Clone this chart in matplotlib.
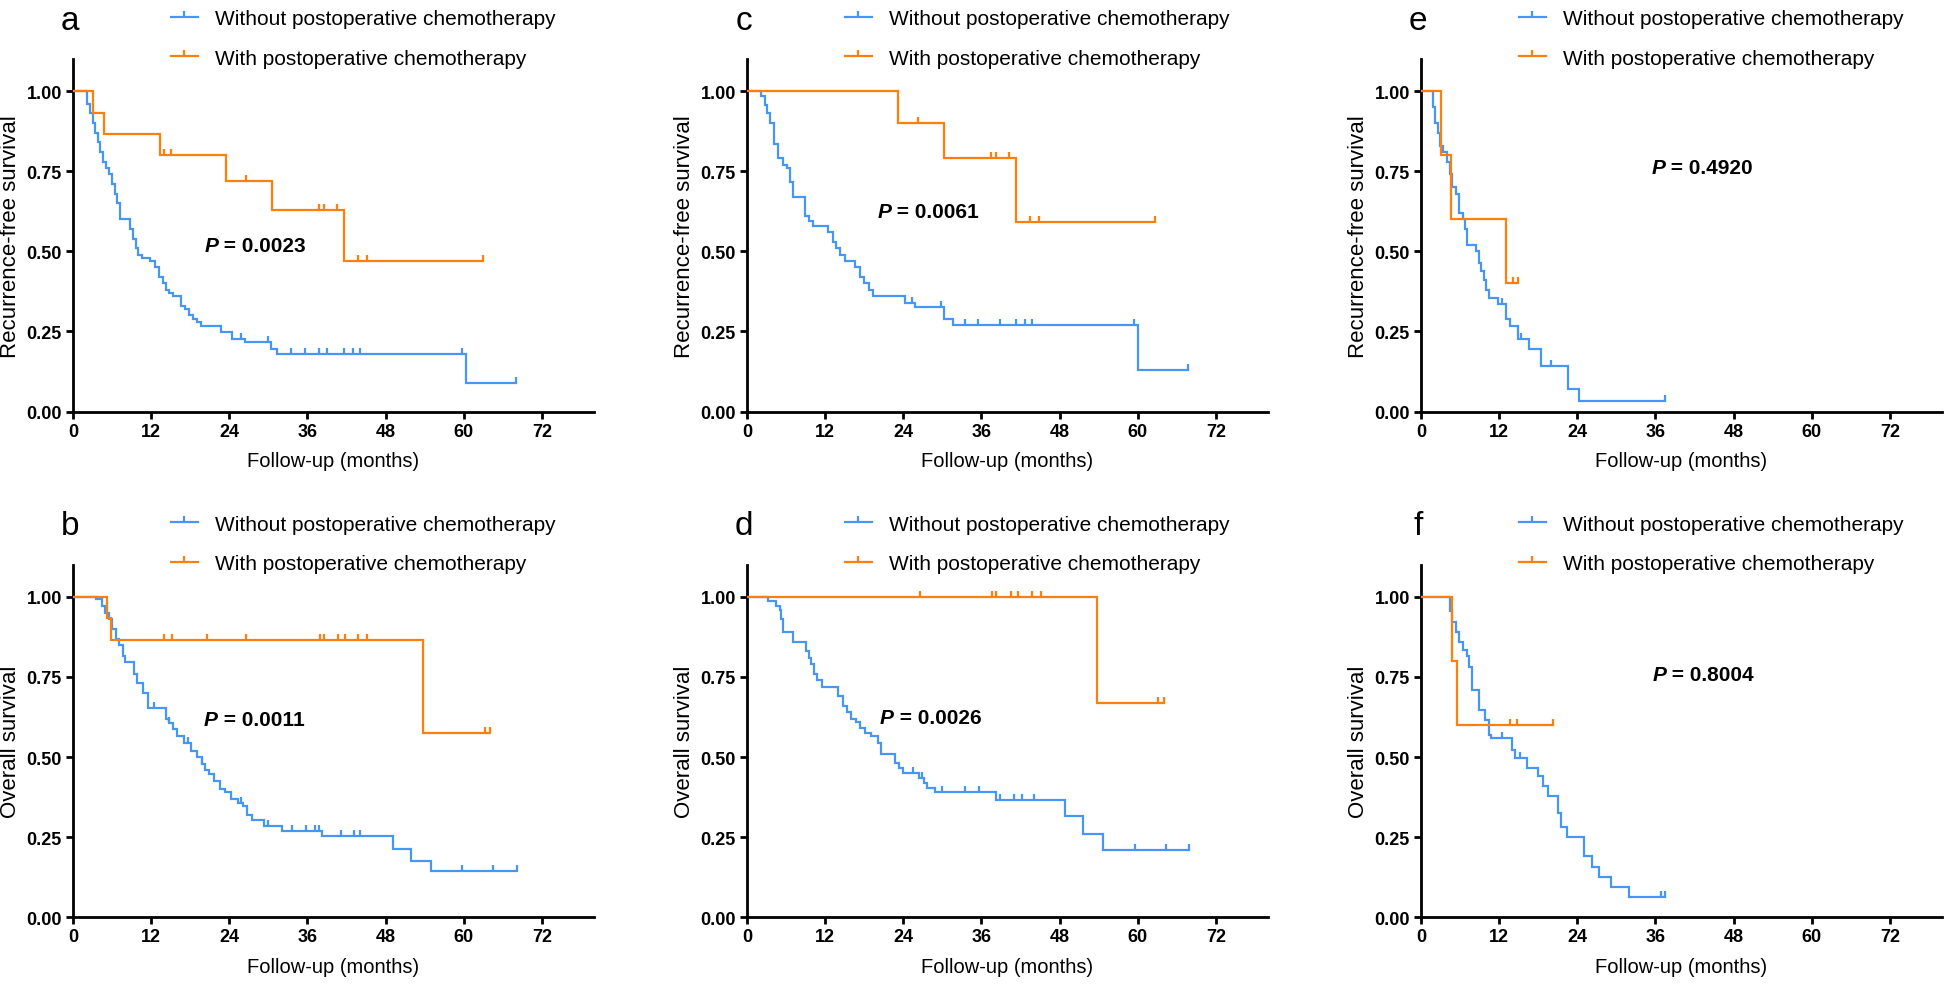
import numpy as np
import matplotlib
matplotlib.use("Agg")
import matplotlib.pyplot as plt
from matplotlib.lines import Line2D
from matplotlib.offsetbox import TextArea, HPacker, AnnotationBbox

plt.rcParams['font.family'] = ['Liberation Sans', 'DejaVu Sans']

# ---------------- data ----------------
series_labels = ["Without postoperative chemotherapy", "With postoperative chemotherapy"]
x_ticks = [0, 12, 24, 36, 48, 60, 72]
y_ticks = [0.0, 0.25, 0.5, 0.75, 1.0]
panel_letters = ["a", "b", "c", "d", "e", "f"]
y_titles = ["Recurrence-free survival", "Overall survival"]
x_title = "Follow-up (months)"
p_values = ["0.0023", "0.0011", "0.0061", "0.0026", "0.4920", "0.8004"]

# panel a (RFS)
a_without_t = [0, 2.2, 2.6, 3.0, 3.4, 3.8, 4.2, 4.6, 5.0, 5.6, 6.0, 6.4, 6.8, 7.2, 8.8, 9.2, 9.6, 10.0, 10.6, 11.8,
               12.6, 13.2, 13.8, 14.3, 14.8, 15.4, 16.6, 17.2, 17.8, 18.4, 19.0, 19.6, 22.8, 24.4, 26.4, 30.4, 31.4, 60.3]
a_without_s = [1.00, 0.96, 0.93, 0.90, 0.87, 0.84, 0.81, 0.78, 0.76, 0.74, 0.71, 0.68, 0.65, 0.60, 0.57, 0.54, 0.51, 0.49, 0.48, 0.47,
               0.45, 0.42, 0.40, 0.38, 0.37, 0.36, 0.33, 0.32, 0.30, 0.29, 0.28, 0.267, 0.247, 0.226, 0.216, 0.195, 0.18, 0.09]
a_without_cens = [25.8, 30.0, 33.5, 35.7, 37.7, 39.0, 41.6, 43.0, 44.0, 59.7, 68.0]
a_with_t = [0, 3.1, 4.8, 13.4, 23.5, 30.6, 41.6]
a_with_s = [1.0, 0.933, 0.867, 0.80, 0.72, 0.63, 0.47]
a_with_cens = [13.9, 15.1, 26.5, 37.7, 38.5, 40.5, 43.8, 45.2, 63.0]

# panel b (OS)
b_without_t = [0, 3.6, 4.4, 4.9, 5.5, 6.0, 6.6, 7.1, 7.7, 8.0, 9.3, 9.9, 10.7, 11.5, 14.3, 14.8, 15.4, 15.9, 17.0, 18.1,
               19.0, 19.8, 20.3, 20.9, 21.7, 22.5, 23.4, 24.2, 25.3, 26.1, 26.7, 27.5, 29.4, 32.1, 38.2, 49.2, 51.9, 54.9]
b_without_s = [1.0, 0.993, 0.972, 0.95, 0.93, 0.90, 0.868, 0.85, 0.816, 0.795, 0.76, 0.73, 0.70, 0.654, 0.62, 0.607, 0.586, 0.566, 0.545, 0.52,
               0.50, 0.477, 0.46, 0.446, 0.425, 0.40, 0.39, 0.368, 0.357, 0.347, 0.32, 0.305, 0.284, 0.27, 0.253, 0.214, 0.177, 0.144]
b_without_cens = [12.5, 14.8, 17.6, 19.8, 25.8, 29.9, 33.6, 35.8, 37.1, 37.7, 41.2, 43.1, 44.1, 59.7, 64.5, 68.1]
b_with_t = [0, 5.2, 5.9, 53.8]
b_with_s = [1.0, 0.933, 0.866, 0.576]
b_with_cens = [14.0, 15.2, 20.6, 26.6, 37.9, 38.5, 40.7, 41.8, 43.7, 45.2, 63.2, 64.1]

# panel c (RFS)
c_without_t = [0, 2.2, 2.7, 3.1, 3.6, 4.1, 4.7, 5.5, 6.1, 6.6, 7.1, 8.9, 9.5, 10.2, 12.4, 13.2, 13.7, 14.3, 15.1, 16.6,
               17.3, 17.9, 18.7, 19.3, 24.2, 25.8, 30.2, 31.6, 60.0]
c_without_s = [1.0, 0.986, 0.955, 0.93, 0.90, 0.835, 0.79, 0.77, 0.76, 0.716, 0.67, 0.61, 0.595, 0.58, 0.56, 0.53, 0.51, 0.49, 0.47, 0.45,
               0.42, 0.40, 0.38, 0.36, 0.34, 0.325, 0.29, 0.27, 0.13]
c_without_cens = [25.4, 29.8, 33.4, 35.5, 38.8, 41.3, 42.7, 43.7, 59.4, 67.7]
c_with_t = [0, 23.2, 30.3, 41.3]
c_with_s = [1.0, 0.90, 0.79, 0.59]
c_with_cens = [26.3, 37.5, 38.2, 40.3, 43.5, 44.9, 62.6]

# panel d (OS)
d_without_t = [0, 3.3, 4.4, 5.0, 5.2, 5.5, 7.1, 9.1, 9.5, 9.9, 10.3, 10.7, 11.5, 14.0, 14.8, 15.4, 15.9, 16.8, 17.3, 18.1,
               19.0, 20.1, 20.6, 22.8, 23.4, 23.9, 26.4, 27.2, 27.6, 28.8, 38.2, 48.9, 51.6, 54.7]
d_without_s = [1.0, 0.986, 0.972, 0.958, 0.93, 0.89, 0.86, 0.83, 0.81, 0.79, 0.76, 0.74, 0.717, 0.69, 0.66, 0.64, 0.62, 0.61, 0.59, 0.575,
               0.565, 0.545, 0.51, 0.48, 0.467, 0.45, 0.436, 0.42, 0.404, 0.39, 0.367, 0.315, 0.26, 0.21]
d_without_cens = [25.5, 26.9, 29.9, 33.5, 35.7, 38.9, 41.0, 42.3, 44.0, 59.6, 64.4, 67.9]
d_with_t = [0, 53.7]
d_with_s = [1.0, 0.667]
d_with_cens = [26.5, 37.6, 38.3, 40.5, 41.6, 43.7, 45.1, 63.1, 64.0]

# panel e (RFS)
e_without_t = [0, 1.9, 2.1, 2.6, 2.9, 3.4, 4.0, 4.5, 4.8, 5.3, 5.9, 6.4, 6.7, 7.0, 8.4, 8.9, 9.2, 9.7, 10.0, 10.4,
               11.9, 13.0, 13.6, 14.9, 16.6, 18.5, 22.6, 24.3]
e_without_s = [1.0, 0.95, 0.90, 0.87, 0.83, 0.81, 0.78, 0.74, 0.70, 0.68, 0.62, 0.60, 0.57, 0.52, 0.50, 0.465, 0.44, 0.41, 0.38, 0.355,
               0.335, 0.29, 0.268, 0.226, 0.195, 0.143, 0.07, 0.033]
e_without_cens = [12.4, 15.4, 19.9, 37.5]
e_with_t = [0, 3.0, 4.6, 13.1]
e_with_s = [1.0, 0.80, 0.60, 0.40]
e_with_cens = [14.1, 14.9]

# panel f (OS)
f_without_t = [0, 4.4, 4.8, 5.3, 5.9, 6.4, 7.0, 7.4, 7.8, 8.9, 9.9, 10.4, 10.8, 14.0, 14.4, 16.3, 18.0, 18.8, 19.5, 21.0,
               21.5, 22.4, 25.1, 26.2, 27.3, 29.2, 32.0]
f_without_s = [1.0, 0.955, 0.92, 0.89, 0.86, 0.835, 0.815, 0.78, 0.71, 0.647, 0.617, 0.57, 0.56, 0.523, 0.497, 0.466, 0.44, 0.41, 0.377, 0.325,
               0.283, 0.25, 0.19, 0.158, 0.127, 0.096, 0.064]
f_without_cens = [12.4, 15.2, 36.9, 37.5]
f_with_t = [0, 4.8, 5.5]
f_with_s = [1.0, 0.80, 0.60]
f_with_cens = [13.7, 14.8, 20.3]

panels = {
    "a": (a_without_t, a_without_s, a_without_cens, a_with_t, a_with_s, a_with_cens),
    "b": (b_without_t, b_without_s, b_without_cens, b_with_t, b_with_s, b_with_cens),
    "c": (c_without_t, c_without_s, c_without_cens, c_with_t, c_with_s, c_with_cens),
    "d": (d_without_t, d_without_s, d_without_cens, d_with_t, d_with_s, d_with_cens),
    "e": (e_without_t, e_without_s, e_without_cens, e_with_t, e_with_s, e_with_cens),
    "f": (f_without_t, f_without_s, f_without_cens, f_with_t, f_with_s, f_with_cens),
}

# ---------------- layout / style ----------------
W, H = 1946, 987
fig = plt.figure(figsize=(W / 100, H / 100), dpi=100)
col_left_px = [73, 747, 1421]
ax_w_px = 521
row_top_px = [60, 565.7]
ax_h_px = 352.6
p_pos = {"a": (28, 0.517), "b": (27.8, 0.618), "c": (27.8, 0.623),
         "d": (28.2, 0.624), "e": (43.2, 0.76), "f": (43.3, 0.756)}

BLUE = "#4696F6"
ORANGE = "#FF7F0A"
TICKMARK = [(0, 0), (0, 1)]
LW = 1.6


def step_value(t, s, x):
    idx = np.searchsorted(np.asarray(t), x, side="right") - 1
    return np.asarray(s)[idx]


def draw_curve(ax, t, s, cens, color):
    t = list(t)
    s = list(s)
    end = max(max(cens), t[-1])
    tt = t + [end]
    ss = s + [s[-1]]
    ax.step(tt, ss, where="post", color=color, lw=LW, solid_joinstyle="miter", zorder=3)
    cy = step_value(t, s, np.asarray(cens))
    ax.plot(cens, cy, linestyle="none", marker=TICKMARK, markersize=9,
            markeredgewidth=LW, color=color, mfc="none", zorder=3)


for i, letter in enumerate(panel_letters):
    col = i // 2
    row = i % 2
    left = col_left_px[col] / W
    bottom = 1 - (row_top_px[row] + ax_h_px) / H
    ax = fig.add_axes([left, bottom, ax_w_px / W, ax_h_px / H])
    wt, ws, wc, ct, cs, cc = panels[letter]
    draw_curve(ax, wt, ws, wc, BLUE)
    draw_curve(ax, ct, cs, cc, ORANGE)

    ax.set_xlim(0, 80)
    ax.set_ylim(0, 1.1)
    ax.set_xticks(x_ticks)
    ax.set_yticks(y_ticks)
    ax.set_yticklabels([f"{v:.2f}" for v in y_ticks])
    for sp in ["top", "right"]:
        ax.spines[sp].set_visible(False)
    for sp in ["left", "bottom"]:
        ax.spines[sp].set_linewidth(2.0)
        ax.spines[sp].set_color("black")
    ax.tick_params(direction="out", length=5, width=2.0, labelsize=13, pad=3)
    for lab in ax.get_xticklabels() + ax.get_yticklabels():
        lab.set_fontweight("bold")
    ax.set_xlabel(x_title, fontsize=14.5, labelpad=8)
    ax.set_ylabel(y_titles[row], fontsize=16, labelpad=4)

    handles = [Line2D([], [], color=BLUE, lw=LW, marker=TICKMARK, markersize=9, markeredgewidth=LW, mfc="none"),
               Line2D([], [], color=ORANGE, lw=LW, marker=TICKMARK, markersize=9, markeredgewidth=LW, mfc="none")]
    ax.legend(handles, series_labels, loc="upper left", bbox_to_anchor=(0.188, 1.142),
              frameon=False, fontsize=15, handlelength=1.3, handletextpad=0.82,
              labelspacing=1.0, borderpad=0, borderaxespad=0, numpoints=1)

    px, py = p_pos[letter]
    pack = HPacker(children=[TextArea("P", textprops=dict(fontsize=15, fontweight="bold", fontstyle="italic")),
                             TextArea(" = " + p_values[i], textprops=dict(fontsize=15, fontweight="bold"))],
                   align="baseline", pad=0, sep=0)
    ab = AnnotationBbox(pack, (px, py), xycoords="data", frameon=False, box_alignment=(0.5, 0.5))
    ax.add_artist(ab)

    fig.text((col_left_px[col] - 3) / W, 1 - (row_top_px[row] - 39) / H, letter,
             fontsize=24, ha="center", va="center")

fig.savefig("out.png", dpi=100)
